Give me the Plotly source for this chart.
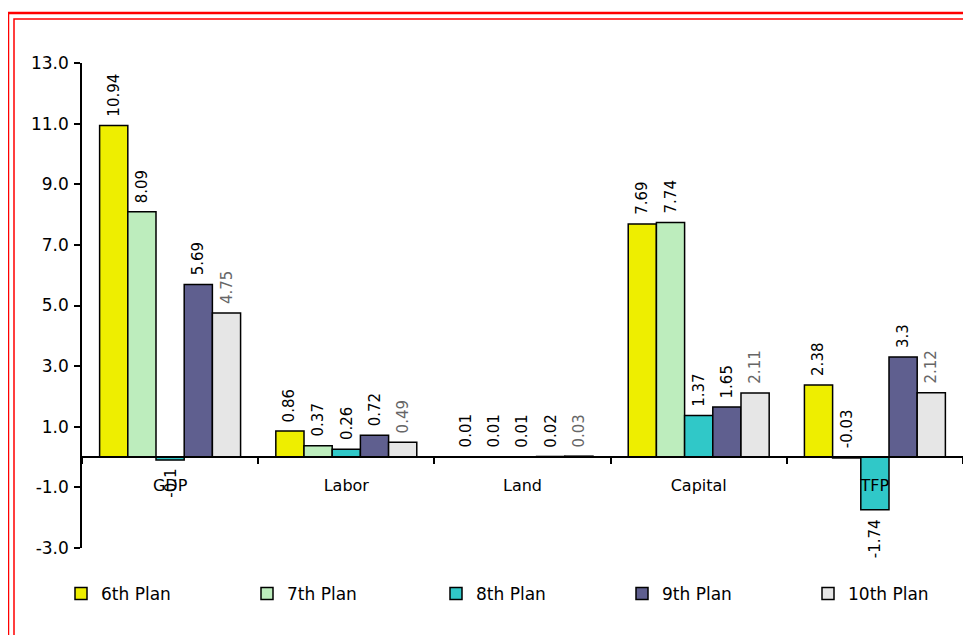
import plotly.graph_objects as go

categories = ["GDP", "Labor", "Land", "Capital", "TFP"]
series_names = ["6th Plan", "7th Plan", "8th Plan", "9th Plan", "10th Plan"]
plan6 = [10.94, 0.86, 0.01, 7.69, 2.38]
plan7 = [8.09, 0.37, 0.01, 7.74, -0.03]
plan8 = [-0.1, 0.26, 0.01, 1.37, -1.74]
plan9 = [5.69, 0.72, 0.02, 1.65, 3.3]
plan10 = [4.75, 0.49, 0.03, 2.11, 2.12]
y_ticks = [-3, -1, 1, 3, 5, 7, 9, 11, 13]
y_tick_labels = ["-3.0", "-1.0", "1.0", "3.0", "5.0", "7.0", "9.0", "11.0", "13.0"]

series_values = [plan6, plan7, plan8, plan9, plan10]
colors = ["#EEEE00", "#BDEDBD", "#30C8C8", "#5F5F8F", "#E6E6E6"]
label_colors = ["#000000", "#000000", "#000000", "#000000", "#666666"]

FONT = "DejaVu Sans"
OFF = 8                     # page body margin of the html page
W, H = 971 - OFF, 635 - OFF
L, T = 82 - OFF, 63 - OFF   # plot area top-left in figure px
pw, ph = 881, 485
R = W - L - pw
B = H - T - ph

def px_x(page_px):
    return (page_px - OFF - L) / pw

def px_y(page_py):
    return (H - B - (page_py - OFF)) / ph

ymin, ymax = -3, 13
bargap = 0.2
bar_px = pw / len(categories) * (1 - bargap) / len(series_names)

fig = go.Figure()
legend_marker_centers = [81, 267, 456, 642, 828]
legend_keys = ["legend", "legend2", "legend3", "legend4", "legend5"]
for k, (name, vals, c) in enumerate(zip(series_names, series_values, colors)):
    fig.add_trace(go.Bar(
        name=name, x=categories, y=vals,
        marker=dict(color=c, line=dict(color="#000000", width=1.5)),
        legend=legend_keys[k], cliponaxis=False,
    ))

# value labels, rotated, placed just beyond each bar end
annotations = []
n = len(series_names)
for k, (vals, lc) in enumerate(zip(series_values, label_colors)):
    for cat, v in zip(categories, vals):
        above = v > -0.05
        annotations.append(dict(
            x=cat, y=max(v, 0) if above else v, xref="x", yref="y",
            text=f"{v:g}", showarrow=False, textangle=-90,
            xshift=(k - (n - 1) / 2) * bar_px,
            yanchor="bottom" if above else "top",
            yshift=7 if above else -7,
            font=dict(family=FONT, size=15, color=lc),
        ))

layout_legends = {}
for k, key in enumerate(legend_keys):
    layout_legends[key] = dict(
        orientation="h", x=px_x(legend_marker_centers[k] - 20), xanchor="left",
        y=px_y(594), yanchor="middle",
        font=dict(family=FONT, size=17, color="#000000"),
        bgcolor="rgba(0,0,0,0)", borderwidth=0,
    )

fig.update_layout(
    width=W, height=H,
    margin=dict(l=L, r=R, t=T, b=B, pad=0),
    paper_bgcolor="white", plot_bgcolor="white",
    barmode="group", bargap=bargap, bargroupgap=0,
    font=dict(family=FONT, size=16, color="#000000"),
    showlegend=True,
    annotations=annotations,
    xaxis=dict(
        type="category", anchor="free", position=(0 - ymin) / (ymax - ymin),
        showline=True, linecolor="#000000", linewidth=1.5,
        ticks="outside", tickson="boundaries", ticklen=6, tickwidth=1.5, tickcolor="#000000",
        showgrid=False, zeroline=False, ticklabelstandoff=14,
        tickfont=dict(family=FONT, size=16, color="#000000"),
    ),
    yaxis=dict(
        range=[ymin, ymax], tickvals=y_ticks, ticktext=y_tick_labels,
        showline=True, linecolor="#000000", linewidth=1.5,
        ticks="outside", ticklen=6, tickwidth=1.5, tickcolor="#000000",
        showgrid=False, zeroline=False, ticklabelstandoff=2,
        tickfont=dict(family=FONT, size=17, color="#000000"),
    ),
    **layout_legends,
)

# category axis line continues slightly past the last boundary tick
fig.add_shape(type="line", xref="paper", yref="y",
              x0=1, x1=px_x(975), y0=0, y1=0,
              line=dict(color="#000000", width=1.5))

# red double frame around the chart area
fig.add_shape(type="rect", xref="paper", yref="paper",
              x0=px_x(8), x1=px_x(1000), y0=px_y(680), y1=px_y(13),
              line=dict(color="#FF0000", width=2.5), layer="below")
fig.add_shape(type="rect", xref="paper", yref="paper",
              x0=px_x(14), x1=px_x(1000), y0=px_y(680), y1=px_y(19),
              line=dict(color="#FF0000", width=1.5), layer="below")

fig.write_html("out.html")
